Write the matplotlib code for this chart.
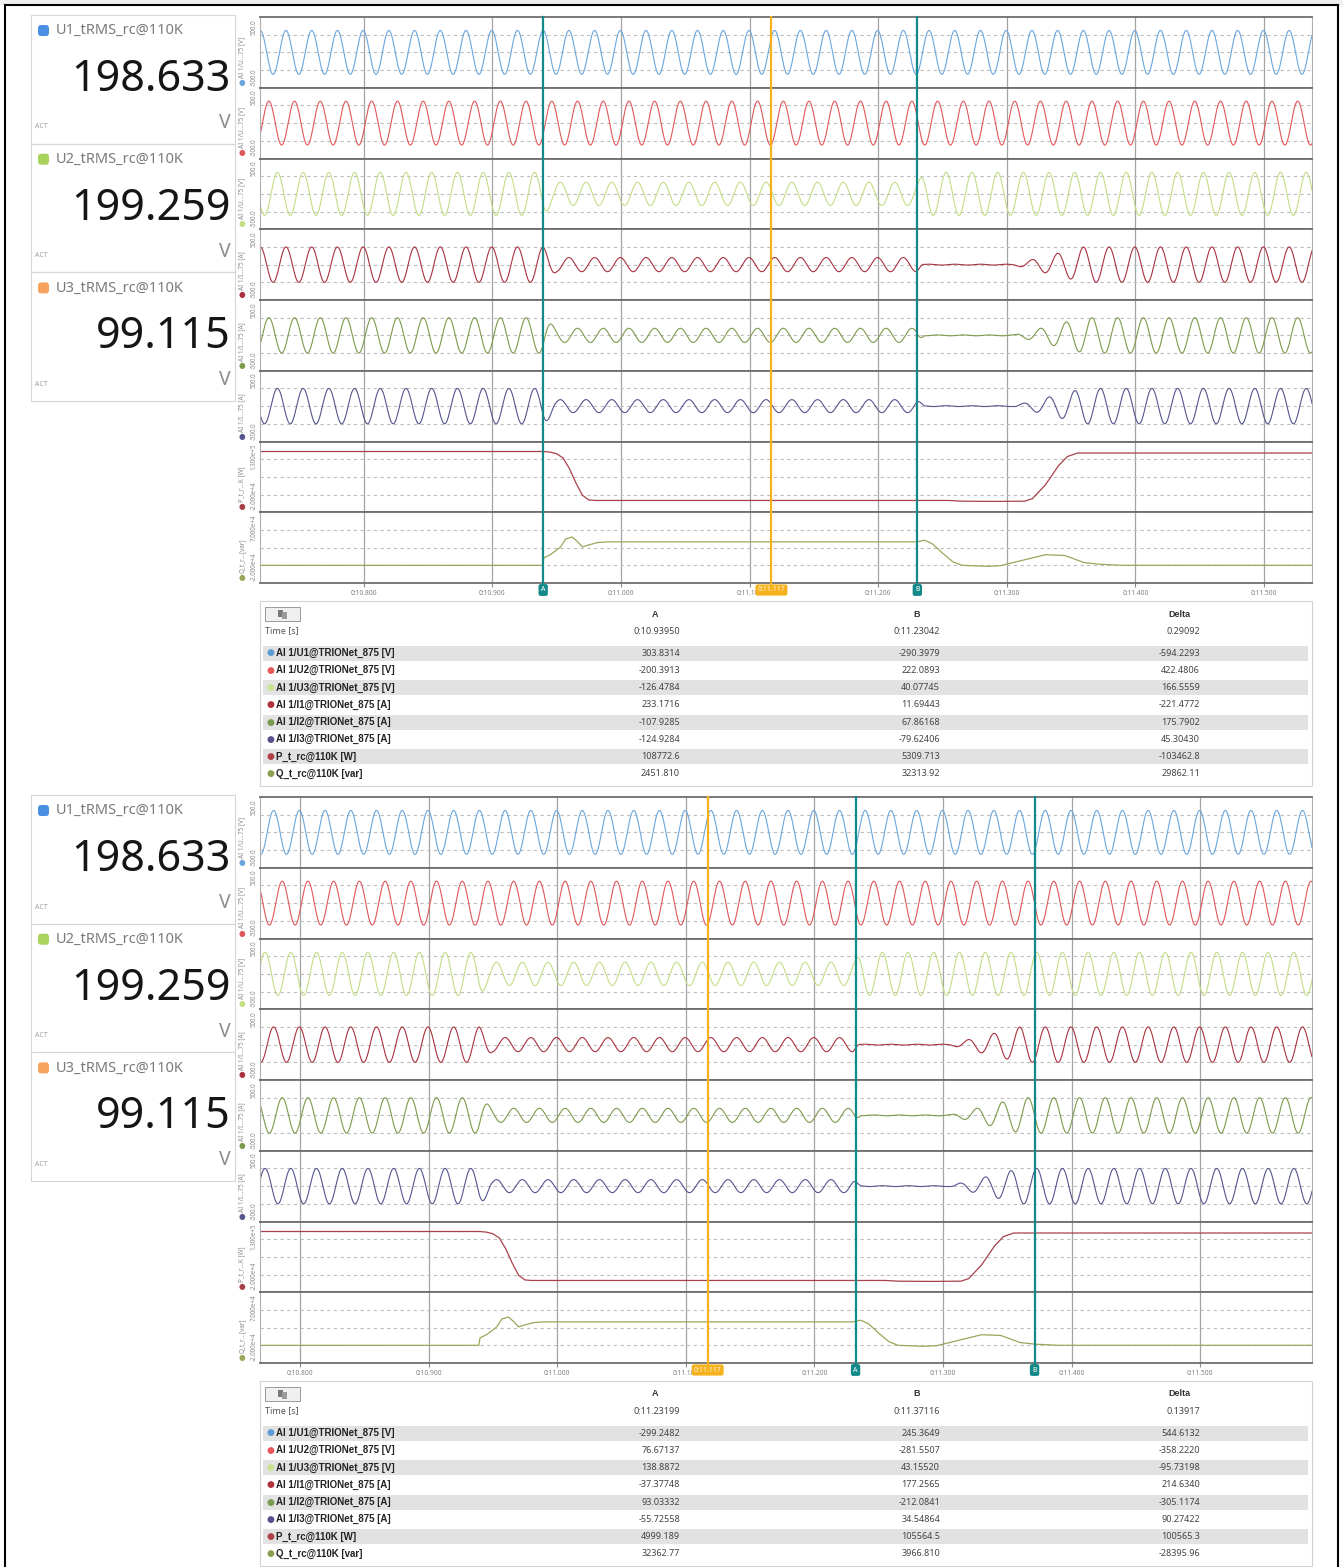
import numpy as np
import matplotlib
matplotlib.use('Agg')
import matplotlib.pyplot as plt
from matplotlib.patches import Rectangle, FancyBboxPatch
from matplotlib.lines import Line2D
from matplotlib import transforms

plt.rcParams['font.family'] = ['Noto Sans', 'DejaVu Sans']
BOLD = ['Liberation Sans', 'DejaVu Sans']

W, H = 1343, 1567

# ---------------- data ----------------
meter_names = ['U1_tRMS_rc@110K', 'U2_tRMS_rc@110K', 'U3_tRMS_rc@110K']
meter_values = ['198.633', '199.259', '99.115']
meter_colors = ['#4a90e2', '#a9d35b', '#f5a35f']

lane_labels = ['AI 1/U...75 [V]', 'AI 1/U...75 [V]', 'AI 1/U...75 [V]',
               'AI 1/I...75 [A]', 'AI 1/I...75 [A]', 'AI 1/I...75 [A]',
               'P_t_r...K [W]', 'Q_t_r...[var]']
lane_lo = [-500, -500, -500, -500, -500, -500, -2.0e4, -2.0e4]
lane_hi = [500, 500, 500, 500, 500, 500, 1.3e5, 7.0e4]
lane_lo_txt = ['-500.0'] * 6 + ['-2.000e+4', '-2.000e+4']
lane_hi_txt = ['500.0'] * 6 + ['1.300e+5', '7.000e+4']
lane_colors = ['#6aa6dc', '#e0575b', '#c3de86', '#a8323e', '#7d9a4c', '#55558f',
               '#a8404a', '#98a85a']

# phase signals: 50 Hz, amplitude envelopes (peak value) per channel
mains_freq = 50.0
phase_deg = [99, -21, 219, 99, -21, 219]
env_times = [
    [10.60, 11.70],
    [10.60, 11.70],
    [10.60, 10.9395, 10.946, 11.230, 11.237, 11.70],
    [10.60, 10.9395, 10.950, 11.230, 11.236, 11.305, 11.360, 11.70],
    [10.60, 10.9395, 10.950, 11.230, 11.236, 11.305, 11.360, 11.70],
    [10.60, 10.9395, 10.950, 11.230, 11.236, 11.305, 11.360, 11.70],
]
env_amps = [
    [310, 310],
    [310, 310],
    [305, 305, 165, 165, 305, 305],
    [250, 250, 100, 100, 6, 6, 250, 250],
    [250, 250, 100, 100, 6, 6, 250, 250],
    [250, 250, 92, 92, 6, 6, 250, 250],
]

# active power P [W]
p_times = [10.60, 10.9395, 10.945, 10.950, 10.955, 10.960, 10.965, 10.970, 10.975,
           10.980, 11.255, 11.265, 11.290, 11.314, 11.320, 11.330, 11.340, 11.347,
           11.355, 11.70]
p_vals = [108800, 108772, 107500, 104000, 95000, 72000, 42000, 16000, 6000,
          5000, 5000, 3500, 3000, 3500, 9000, 38000, 78000, 98000, 105600, 105600]

# reactive power Q [var]
q_times = [10.60, 10.939, 10.940, 10.945, 10.950, 10.953, 10.957, 10.962, 10.966,
           10.970, 10.975, 10.982, 10.990, 11.230, 11.236, 11.242, 11.250, 11.258,
           11.265, 11.285, 11.295, 11.315, 11.330, 11.345, 11.360, 11.372, 11.390,
           11.70]
q_vals = [2450, 2450, 12000, 16000, 22000, 26000, 36000, 38500, 33000,
          26000, 28500, 31500, 32300, 32300, 34500, 30000, 18000, 7000,
          2500, 1200, 2000, 10000, 16000, 15000, 6000, 3900, 2500, 2500]

tick_times = [10.8, 10.9, 11.0, 11.1, 11.2, 11.3, 11.4, 11.5]
view_start = [10.7193, 10.7689]
view_span = 0.818
cursor_a = [10.93950, 11.23199]
cursor_b = [11.23042, 11.37116]
marker_t = 11.117

table_names = ['AI 1/U1@TRIONet_875 [V]', 'AI 1/U2@TRIONet_875 [V]',
               'AI 1/U3@TRIONet_875 [V]', 'AI 1/I1@TRIONet_875 [A]',
               'AI 1/I2@TRIONet_875 [A]', 'AI 1/I3@TRIONet_875 [A]',
               'P_t_rc@110K [W]', 'Q_t_rc@110K [var]']
table_time = [['0:10.93950', '0:11.23042', '0.29092'],
              ['0:11.23199', '0:11.37116', '0.13917']]
table_a = [['303.8314', '-200.3913', '-126.4784', '233.1716', '-107.9285',
            '-124.9284', '108772.6', '2451.810'],
           ['-299.2482', '76.67137', '138.8872', '-37.37748', '93.03332',
            '-55.72558', '4999.189', '32362.77']]
table_b = [['-290.3979', '222.0893', '40.07745', '11.69443', '67.86168',
            '-79.62406', '5309.713', '32313.92'],
           ['245.3649', '-281.5507', '43.15520', '177.2565', '-212.0841',
            '34.54864', '105564.5', '3966.810']]
table_d = [['-594.2293', '422.4806', '166.5559', '-221.4772', '175.7902',
            '45.30430', '-103462.8', '29862.11'],
           ['544.6132', '-358.2220', '-95.73198', '214.6340', '-305.1174',
            '90.27422', '100565.3', '-28395.96']]
# ----------------------------------------------------------------

fig = plt.figure(figsize=(W / 100, H / 100), dpi=100)
fig.patch.set_facecolor('white')


def ftext(x, y, s, **kw):
    return fig.text(x / W, 1 - y / H, s, **kw)


def frect(x0, y0, x1, y1, **kw):
    r = Rectangle((x0 / W, 1 - y1 / H), (x1 - x0) / W, (y1 - y0) / H,
                  transform=fig.transFigure, **kw)
    fig.patches.append(r)
    return r


def fline(xs, ys, **kw):
    fig.add_artist(Line2D([x / W for x in xs], [1 - y / H for y in ys],
                          transform=fig.transFigure, **kw))


def arect(x0, y0, x1, y1):
    return [x0 / W, 1 - y1 / H, (x1 - x0) / W, (y1 - y0) / H]


# outer frame
frect(0, 0, W, 5, fc='#efefef', ec='none')
fline([5, 1338], [5, 5], color='black', lw=1.5)
fline([5, 5], [5, H], color='black', lw=1.5)
fline([1338, 1338], [5, H], color='black', lw=1.5)

t = np.linspace(10.65, 11.65, 14000)
teal = '#14898a'
amber = '#f6b21d'

for p, dy in enumerate([0, 780]):
    # ---- meters ----
    for k in range(3):
        y0 = 15 + k * 128.7 + dy
        frect(31, y0, 235, y0 + 128.7, fc='white', ec='#d6d6d6', lw=0.8)
        fig.patches.append(FancyBboxPatch((38 / W, 1 - (y0 + 21) / H), 11 / W, 11 / H,
                                          boxstyle='round,pad=0,rounding_size=0.002',
                                          transform=fig.transFigure,
                                          fc=meter_colors[k], ec='none'))
        ftext(56, y0 + 15.5, meter_names[k], fontsize=10.5, color='#7a7a7a',
              va='center', ha='left')
        ftext(231, y0 + 65, meter_values[k], fontsize=31, color='#151515',
              va='center', ha='right')
        ftext(231, y0 + 108, 'V', fontsize=14, color='#8c8c8c', va='center', ha='right')
        ftext(35, y0 + 112, 'ACT', fontsize=5, color='#a0a0a0', va='center', ha='left')

    # ---- lanes ----
    top, bottom = 17 + dy, 583 + dy
    lane_h = (bottom - top) / 8
    xl = (view_start[p], view_start[p] + view_span)
    for i in range(8):
        y0 = top + i * lane_h
        ax = fig.add_axes(arect(260, y0, 1312, y0 + lane_h))
        ax.set_xlim(xl)
        ax.set_ylim(lane_lo[i], lane_hi[i])
        lo, hi = lane_lo[i], lane_hi[i]
        ax.set_yticks([lo + (hi - lo) * q / 4 for q in (1, 2, 3)])
        ax.yaxis.grid(True, color='#bdbdbd', lw=0.8, ls=(0, (3, 3)))
        ax.set_xticks(tick_times)
        ax.xaxis.grid(True, color='#a4a4a4', lw=0.9)
        ax.tick_params(axis='y', length=0, labelleft=False)
        if i == 7:
            ax.set_xticklabels(['0:%.3f' % v for v in tick_times])
            ax.tick_params(axis='x', length=3, color='#8a8a8a', labelsize=4.8,
                           labelcolor='#808080', pad=2)
        else:
            ax.tick_params(axis='x', length=0, labelbottom=False)
        for s in ('top', 'bottom'):
            ax.spines[s].set_color('#6e6e6e')
            ax.spines[s].set_linewidth(1.3)
        for s in ('left', 'right'):
            ax.spines[s].set_color('#b0b0b0')
            ax.spines[s].set_linewidth(0.8)
        ax.set_axisbelow(True)

        if i < 6:
            amp = np.interp(t, env_times[i], env_amps[i])
            sig = amp * np.sin(2 * np.pi * mains_freq * t + np.deg2rad(phase_deg[i]))
            ax.plot(t, sig, color=lane_colors[i], lw=0.8)
        elif i == 6:
            ax.plot(p_times, p_vals, color=lane_colors[i], lw=0.9)
        else:
            ax.plot(q_times, q_vals, color=lane_colors[i], lw=0.9)

        # side labels
        ftext(242, y0 + lane_h - 10, lane_labels[i], rotation=90, fontsize=4.6,
              color='#8a8a8a', ha='center', va='bottom')
        ftext(242, y0 + lane_h - 4.5, '\u25cf', fontsize=5.5, color=lane_colors[i],
              ha='center', va='center')
        ftext(254, y0 + 2, lane_hi_txt[i], rotation=90, fontsize=4.5,
              color='#8a8a8a', ha='center', va='top')
        ftext(254, y0 + lane_h - 2, lane_lo_txt[i], rotation=90, fontsize=4.5,
              color='#8a8a8a', ha='center', va='bottom')

    # ---- cursors ----
    axc = fig.add_axes(arect(260, top, 1312, bottom))
    axc.set_xlim(xl)
    axc.set_ylim(0, 1)
    axc.axis('off')
    axc.patch.set_alpha(0)
    ylow = -(590 + dy - bottom) / (bottom - top)
    axc.axvline(cursor_a[p], ymin=ylow, ymax=1, color=teal, lw=1.6, clip_on=False)
    axc.axvline(cursor_b[p], ymin=ylow, ymax=1, color=teal, lw=1.6, clip_on=False)
    axc.axvline(marker_t, ymin=ylow, ymax=1, color=amber, lw=1.6, clip_on=False)
    tr = transforms.blended_transform_factory(axc.transData, axc.transAxes)
    for tc, lab in ((cursor_a[p], 'A'), (cursor_b[p], 'B')):
        axc.text(tc, ylow, lab, transform=tr, ha='center', va='center', fontsize=5,
                 fontweight='bold', color='white', clip_on=False,
                 bbox=dict(boxstyle='round,pad=0.35,rounding_size=0.3', fc=teal, ec='none'))
    axc.text(marker_t, ylow, '0:%.3f' % marker_t, transform=tr, ha='center',
             va='center', fontsize=5, color='#fff6dc', clip_on=False,
             bbox=dict(boxstyle='round,pad=0.3', fc=amber, ec='none'))

    # ---- cursor table ----
    frect(260, 601 + dy, 1312, 786 + dy, fc='white', ec='#d2d2d2', lw=0.8)
    frect(265, 607 + dy, 300, 621 + dy, fc='#f0f0f0', ec='#9a9a9a', lw=0.7)
    frect(278, 610 + dy, 283, 617 + dy, fc='#7a7a7a', ec='none')
    frect(282, 612 + dy, 287, 619 + dy, fc='#9a9a9a', ec='none')
    col_head = [655, 917, 1179]
    col_right = [680, 940, 1200]
    for c, hd in enumerate(['A', 'B', 'Delta']):
        ftext(col_head[c], 614 + dy, hd, fontsize=6.5, fontweight='bold', family=BOLD,
              color='#333333', ha='center', va='center')
        ftext(col_right[c], 631 + dy, table_time[p][c], fontsize=6.5,
              color='#444444', ha='right', va='center')
    ftext(265, 631 + dy, 'Time [s]', fontsize=6.5, color='#555555', ha='left', va='center')
    tab_dot = ['#5b9bd5', '#e8585a', '#c8e290', '#b0323c', '#7a9a50', '#5a4e8f',
               '#b04048', '#8aa050']
    for r in range(8):
        yr = 653 + r * 17.28 + dy
        if r % 2 == 0:
            frect(263, yr - 7.5, 1308, yr + 7.5, fc='#e2e2e2', ec='none')
        ftext(270, yr, '\u25cf', fontsize=6.5, color=tab_dot[r], ha='center', va='center')
        ftext(276, yr, table_names[r], fontsize=7.0, fontweight='bold', family=BOLD,
              color='#222222', ha='left', va='center')
        for c, vals in enumerate((table_a[p], table_b[p], table_d[p])):
            ftext(col_right[c], yr, vals[r], fontsize=6.5, color='#444444',
                  ha='right', va='center')

fig.savefig('out.png', dpi=100)
